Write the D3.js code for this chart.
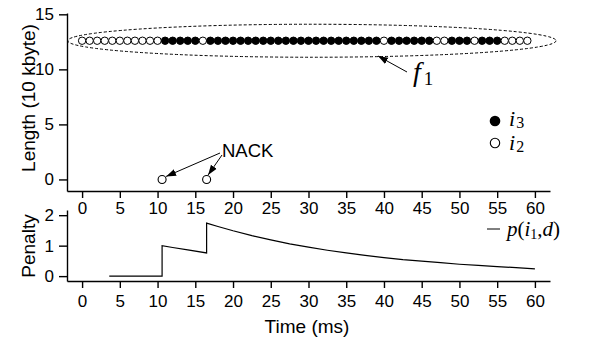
<!DOCTYPE html>
<html>
<head>
<meta charset="utf-8">
<script src="https://cdn.jsdelivr.net/npm/d3@7"></script>
<style>
  body { margin: 0; background: #fff; }
  svg text { font-family: "Liberation Sans", Arial, sans-serif; fill: #000; }
  svg text.math { font-family: "Liberation Serif", "DejaVu Serif", serif; }
</style>
</head>
<body>
<div id="wrapper"></div>
<script>
// packets sent, one per ms (length in units of 10 kbyte)
const packetTimes = [0, 1, 2, 3, 4, 5, 6, 7, 8, 9, 10, 11, 12, 13, 14, 15, 16, 17, 18, 19,
  20, 21, 22, 23, 24, 25, 26, 27, 28, 29, 30, 31, 32, 33, 34, 35, 36, 37, 38, 39,
  40, 41, 42, 43, 44, 45, 46, 47, 48, 49, 50, 51, 52, 53, 54, 55, 56, 57, 58, 59]
const packetKinds = [
  "i2", "i2", "i2", "i2", "i2", "i2", "i2", "i2", "i2", "i2",
  "i2", "i3", "i3", "i3", "i3", "i3", "i2", "i3", "i3", "i3",
  "i3", "i3", "i3", "i3", "i3", "i3", "i3", "i3", "i3", "i3",
  "i3", "i3", "i3", "i3", "i3", "i3", "i3", "i3", "i3", "i3",
  "i2", "i3", "i3", "i3", "i3", "i3", "i3", "i2", "i2", "i3",
  "i3", "i3", "i2", "i3", "i3", "i3", "i2", "i2", "i2", "i2"]
const packetLengths = [12.6, 12.6, 12.6, 12.6, 12.6, 12.6, 12.6, 12.6, 12.6, 12.6,
  12.6, 12.6, 12.6, 12.6, 12.6, 12.6, 12.6, 12.6, 12.6, 12.6,
  12.6, 12.6, 12.6, 12.6, 12.6, 12.6, 12.6, 12.6, 12.6, 12.6,
  12.6, 12.6, 12.6, 12.6, 12.6, 12.6, 12.6, 12.6, 12.6, 12.6,
  12.6, 12.6, 12.6, 12.6, 12.6, 12.6, 12.6, 12.6, 12.6, 12.6,
  12.6, 12.6, 12.6, 12.6, 12.6, 12.6, 12.6, 12.6, 12.6, 12.6]

// NACK messages
const nackTimes = [10.6, 16.5]
const nackLengths = [0, 0]

// penalty p(i1, d)
const penaltyTimes = [3.6, 10.6, 10.6, 12, 14, 16.5, 16.5, 18, 20, 22.5, 25, 27.5, 30,
  32.5, 35, 37.5, 40, 42.5, 45, 47.5, 50, 52.5, 55, 57.5, 60]
const penaltyValues = [0, 0, 1.0, 0.94, 0.86, 0.76, 1.74, 1.63, 1.49, 1.33, 1.19, 1.06, 0.95,
  0.85, 0.76, 0.68, 0.61, 0.54, 0.49, 0.44, 0.39, 0.35, 0.31, 0.28, 0.24]

const timeTicks = [0, 5, 10, 15, 20, 25, 30, 35, 40, 45, 50, 55, 60]
const lengthTicks = [0, 5, 10, 15]
const penaltyTicks = [0, 1, 2]

function drawChart() {
  const dimensions = {
    width: 590,
    height: 337,
    left: 67,
    right: 550,
    top: { y0: 13, y1: 191 },
    bottom: { y0: 210, y1: 281 }
  }

  const svg = d3.select("#wrapper")
    .append("svg")
      .attr("width", dimensions.width)
      .attr("height", dimensions.height)

  const defs = svg.append("defs")
  defs.append("marker")
      .attr("id", "head")
      .attr("viewBox", "0 0 10 10")
      .attr("refX", 10)
      .attr("refY", 5)
      .attr("markerWidth", 10)
      .attr("markerHeight", 10)
      .attr("markerUnits", "userSpaceOnUse")
      .attr("orient", "auto")
    .append("path")
      .attr("d", "M0,1.5 L10,5 L0,8.5 Z")
      .attr("fill", "#000")

  const xScale = d3.scaleLinear()
    .domain([-2, 62])
    .range([dimensions.left, dimensions.right])

  const yTop = d3.scaleLinear()
    .domain([-1.05, 15.12])
    .range([dimensions.top.y1, dimensions.top.y0])

  const yBottom = d3.scaleLinear()
    .domain([-0.16, 2.17])
    .range([dimensions.bottom.y1, dimensions.bottom.y0])

  function styleAxis(g) {
    g.attr("font-size", null).attr("font-family", null)
      .style("font-size", "17px")
      .style("font-family", "'Liberation Sans', Arial, sans-serif")
    g.select(".domain").attr("stroke", "#000").attr("stroke-width", 1.4)
    g.selectAll(".tick line").attr("stroke", "#000").attr("stroke-width", 1.4)
    g.selectAll(".tick text").attr("fill", "#000")
  }

  // axes, top panel
  svg.append("g")
      .attr("transform", `translate(0, ${dimensions.top.y1})`)
      .call(d3.axisBottom(xScale).tickValues(timeTicks).tickSizeInner(7).tickSizeOuter(0).tickPadding(4))
      .call(styleAxis)

  svg.append("g")
      .attr("transform", `translate(${dimensions.left}, 0)`)
      .call(d3.axisLeft(yTop).tickValues(lengthTicks).tickFormat(d3.format("d"))
        .tickSizeInner(8).tickSizeOuter(0).tickPadding(5))
      .call(styleAxis)

  // axes, bottom panel
  svg.append("g")
      .attr("transform", `translate(0, ${dimensions.bottom.y1})`)
      .call(d3.axisBottom(xScale).tickValues(timeTicks).tickSizeInner(7).tickSizeOuter(0).tickPadding(7))
      .call(styleAxis)

  svg.append("g")
      .attr("transform", `translate(${dimensions.left}, 0)`)
      .call(d3.axisLeft(yBottom).tickValues(penaltyTicks).tickFormat(d3.format("d"))
        .tickSizeInner(8).tickSizeOuter(0).tickPadding(5))
      .call(styleAxis)

  // axis titles
  svg.append("text")
      .attr("transform", "translate(35, 98) rotate(-90)")
      .attr("text-anchor", "middle")
      .attr("font-size", 19)
      .text("Length (10 kbyte)")

  svg.append("text")
      .attr("transform", "translate(35, 246) rotate(-90)")
      .attr("text-anchor", "middle")
      .attr("font-size", 19)
      .text("Penalty")

  svg.append("text")
      .attr("x", 307)
      .attr("y", 333)
      .attr("text-anchor", "middle")
      .attr("font-size", 19)
      .text("Time (ms)")

  // flow ellipse
  svg.append("ellipse")
      .attr("cx", (xScale(-1.9) + xScale(62.8)) / 2)
      .attr("cy", yTop(12.6))
      .attr("rx", (xScale(62.8) - xScale(-1.9)) / 2)
      .attr("ry", 16.5)
      .attr("fill", "none")
      .attr("stroke", "#000")
      .attr("stroke-width", 1)
      .attr("stroke-dasharray", "3,2")

  const packets = packetTimes.map((t, i) => ({ t, len: packetLengths[i], kind: packetKinds[i] }))

  svg.append("g")
    .selectAll("circle")
    .data(packets)
    .join("circle")
      .attr("cx", d => xScale(d.t))
      .attr("cy", d => yTop(d.len))
      .attr("r", 3.7)
      .attr("fill", d => d.kind === "i3" ? "#000" : "#fff")
      .attr("stroke", "#000")
      .attr("stroke-width", 1)

  // NACK markers
  svg.append("g")
    .selectAll("circle")
    .data(nackTimes)
    .join("circle")
      .attr("cx", d => xScale(d))
      .attr("cy", (d, i) => yTop(nackLengths[i]))
      .attr("r", 4)
      .attr("fill", "#fff")
      .attr("stroke", "#000")
      .attr("stroke-width", 1.1)

  svg.append("text")
      .attr("x", 222)
      .attr("y", 157)
      .attr("font-size", 18.5)
      .text("NACK")

  svg.append("line")
      .attr("x1", 220).attr("y1", 153)
      .attr("x2", xScale(nackTimes[0]) + 4).attr("y2", yTop(nackLengths[0]) - 3)
      .attr("stroke", "#000").attr("stroke-width", 1)
      .attr("marker-end", "url(#head)")

  svg.append("line")
      .attr("x1", 222).attr("y1", 155)
      .attr("x2", xScale(nackTimes[1]) + 1.5).attr("y2", yTop(nackLengths[1]) - 4.5)
      .attr("stroke", "#000").attr("stroke-width", 1)
      .attr("marker-end", "url(#head)")

  // f1 annotation
  svg.append("line")
      .attr("x1", 407).attr("y1", 72)
      .attr("x2", 378).attr("y2", 56)
      .attr("stroke", "#000").attr("stroke-width", 1)
      .attr("marker-end", "url(#head)")

  const f1 = svg.append("text")
      .attr("class", "math")
      .attr("x", 413)
      .attr("y", 81)
      .attr("font-size", 28)
  f1.append("tspan").attr("font-style", "italic").text("f")
  f1.append("tspan").attr("font-size", 19).attr("dy", 4).attr("dx", 3).text("1")

  // legend, top panel
  svg.append("circle").attr("cx", 495).attr("cy", 121).attr("r", 5.3).attr("fill", "#000")
  svg.append("circle").attr("cx", 495).attr("cy", 143).attr("r", 4.7)
      .attr("fill", "#fff").attr("stroke", "#000").attr("stroke-width", 1.1)

  const legendItems = [["3", 126], ["2", 150]]
  legendItems.forEach(([sub, y]) => {
    const t = svg.append("text")
        .attr("class", "math")
        .attr("x", 509)
        .attr("y", y)
        .attr("font-size", 22)
    t.append("tspan").attr("font-style", "italic").text("i")
    t.append("tspan").attr("font-size", 16).attr("dy", 2).attr("dx", 1).text(sub)
  })

  // penalty curve
  const penaltyLine = d3.line()
    .x(d => xScale(d[0]))
    .y(d => yBottom(d[1]))

  svg.append("path")
      .datum(penaltyTimes.map((t, i) => [t, penaltyValues[i]]))
      .attr("d", penaltyLine)
      .attr("fill", "none")
      .attr("stroke", "#000")
      .attr("stroke-width", 1.2)

  // legend, bottom panel
  svg.append("line")
      .attr("x1", 487).attr("x2", 500)
      .attr("y1", 229).attr("y2", 229)
      .attr("stroke", "#000").attr("stroke-width", 1)

  const p = svg.append("text")
      .attr("class", "math")
      .attr("x", 507)
      .attr("y", 236)
      .attr("font-size", 21)
  p.append("tspan").attr("font-style", "italic").text("p")
  p.append("tspan").text("(")
  p.append("tspan").attr("font-style", "italic").text("i")
  p.append("tspan").attr("font-size", 14).attr("dy", 3).text("1")
  p.append("tspan").attr("dy", -3).text(",")
  p.append("tspan").attr("font-style", "italic").text("d")
  p.append("tspan").text(")")
}

drawChart()
</script>
</body>
</html>
